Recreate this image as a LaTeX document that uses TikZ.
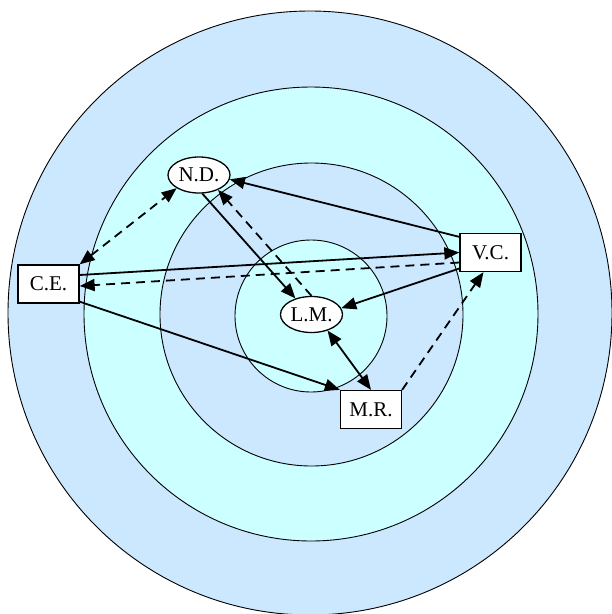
\documentclass[tikz,border=0pt]{standalone}
\usepackage{fontspec}
\setmainfont{Liberation Serif}
\usetikzlibrary{arrows.meta,shapes.geometric,calc}
\definecolor{ringblue}{HTML}{CCE8FF}
\definecolor{ringcyan}{HTML}{CCFFFF}
\begin{document}
\begin{tikzpicture}[x=1pt,y=-1pt,
  ring/.style={draw=black,line width=0.9pt},
  ell/.style={ellipse,draw,fill=white,minimum width=62pt,minimum height=36pt,inner sep=0pt,line width=1.3pt,font=\fontsize{21}{24}\selectfont},
  box/.style={rectangle,draw,fill=white,minimum width=61pt,minimum height=38pt,inner sep=0pt,line width=1.3pt,font=\fontsize{21}{24}\selectfont},
  link/.style={line width=1.8pt,>={Triangle[length=15pt,width=12pt]}},
  dsh/.style={dash pattern=on 9pt off 6pt}]
\useasboundingbox (0,0) rectangle (612,614);
\draw[ring,fill=ringblue] (310,313) circle[radius=302];
\draw[ring,fill=ringcyan] (311,314) circle[radius=227];
\draw[ring,fill=ringblue] (311.5,314.5) circle[radius=151.5];
\draw[ring,fill=ringcyan] (311,316) circle[radius=76];
\node[ell] (nd) at (199,175) {N.D.};
\node[ell] (lm) at (311.5,314.5) {L.M.};
\node[box] (vc) at (490.5,252.5) {V.C.};
\node[box] (ce) at (48.5,284) {C.E.};
\node[box] (mr) at (371,409.5) {M.R.};
\draw[link,dsh,<->] (ce.north east) -- (nd.south west);
\draw[link,->] ([yshift=-4pt]vc.north west) -- (nd.-8);
\draw[link,->] (nd.-80) -- (lm.135);
\draw[link,dsh,->] (lm.north) -- (nd.-38);
\draw[link,->] ([yshift=9pt]ce.east) -- (vc.west);
\draw[link,dsh,->] ([yshift=-10pt]vc.west) -- ([yshift=-2pt]ce.east);
\draw[link,->] ([yshift=-16pt]vc.west) -- (lm.12);
\draw[link,->] ([yshift=2pt]ce.south east) -- (mr.north west);
\draw[link,<->] (lm.-45) -- (mr.north);
\draw[link,dsh,->] (mr.north east) -- ([xshift=-7pt]vc.south);
\end{tikzpicture}
\end{document}
